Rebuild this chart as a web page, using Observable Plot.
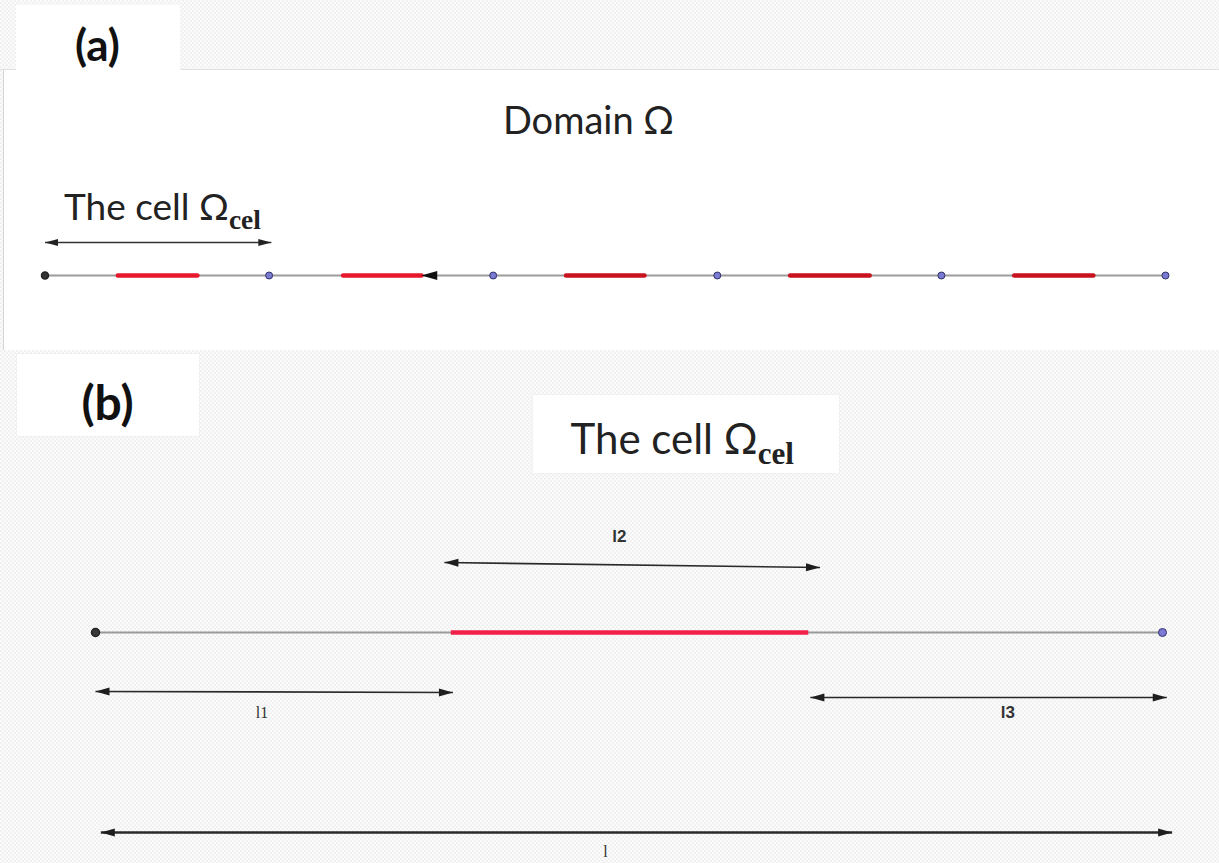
<!DOCTYPE html>
<html><head><meta charset="utf-8">
<script src="https://cdn.jsdelivr.net/npm/d3@7"></script>
<script src="https://cdn.jsdelivr.net/npm/@observablehq/plot@0.6"></script>
<style>
body{margin:0;width:1219px;height:863px;overflow:hidden;position:relative;background-color:#f7f7f7;
 background-image:conic-gradient(#f1f1f1 25%,#fbfbfb 0 50%,#f1f1f1 0 75%,#fbfbfb 0);background-size:4px 4px;}
.box{position:absolute;background:#fff}
#panelA{left:3px;top:69px;width:1216px;height:281px;border-left:1px solid #d6d6d6;border-top:1px solid #e2e2e2;box-sizing:border-box}
#edgeA{position:absolute;left:0;top:69px;width:17px;height:1px;background:#e2e2e2}
#boxA{left:16px;top:5px;width:164px;height:65px}
#boxB{left:17px;top:354px;width:182px;height:82px;box-shadow:0 0 1px #d8d8d8}
#boxT{left:533px;top:395px;width:306px;height:78px;box-shadow:0 0 1px #d8d8d8}
.holder{position:absolute;left:0}
</style></head><body>
<div class="box" id="panelA"></div>
<div id="edgeA"></div>
<div class="box" id="boxA"></div>
<div class="box" id="boxB"></div>
<div class="box" id="boxT"></div>
<div class="holder" id="plotA" style="top:0"></div>
<div class="holder" id="plotB" style="top:350px"></div>
<script>
// ---------- data: panel (a), the domain Ω made of 5 periodic cells (x in cell units)
const domainNodes = [0, 1, 2, 3, 4, 5];
const domainNodeType = ["end", "mid", "mid", "mid", "mid", "mid"];
const inclusionStartA = [0.325, 1.330, 2.325, 3.325, 4.325];
const inclusionEndA = [0.680, 1.680, 2.675, 3.680, 4.678];
const inclusionShadeA = ["bright", "bright", "dark", "dark", "dark"];
const cellSpanA = [0, 1.01];
const strayHeadA = [1.679];

// ---------- data: panel (b), one cell Ω_cel (x in fractions of the cell length l)
const cellNodes = [0, 1];
const cellNodeType = ["end", "mid"];
const inclusionB = [0.333, 0.668];
const spanLabels = ["l2", "l1", "l3", "l"];
const spanFrom = [0.327, 0.0, 0.670, 0.005];
const spanTo = [0.679, 0.335, 1.004, 1.009];
const spanLabelAt = [0.491, 0.156, 0.855, 0.478];

// ---------- layout (vertical levels, page pixels)
const layoutA = {label: 60, title: 133, cellText: 219, cellArrow: 242, line: 275};
const layoutB = {label: 419, title: 453, line: 632,
  spanY1: [562, 691, 697, 832], spanY2: [567, 692, 697, 832], labelY: [536, 712, 712, 851]};

const W = 1219;
const ns = "http://www.w3.org/2000/svg";
// arrowhead symbol: tip at the origin, pointing to +x (rotated by the rotate channel)
const head = (L, w) => ({draw(ctx) { ctx.moveTo(0, 0); ctx.lineTo(-L, -w / 2); ctx.lineTo(-L, w / 2); ctx.closePath(); }});
function subscripts(svg, family) {
  svg.querySelectorAll("text").forEach(t => {
    const s = t.textContent, i = s.indexOf("_");
    if (i < 0) return;
    t.textContent = s.slice(0, i);
    const ts = document.createElementNS(ns, "tspan");
    ts.textContent = s.slice(i + 1);
    ts.setAttribute("font-size", "0.74em");
    ts.setAttribute("dy", "0.33em");
    ts.setAttribute("font-family", family);
    ts.setAttribute("font-weight", "bold");
    t.appendChild(ts);
  });
}
const sans = "Lato, 'Open Sans', sans-serif";
const idx = n => d3.range(n);

// ---------- panel (a)
const headsA = [
  {x: cellSpanA[0], y: layoutA.cellArrow, rotate: 180},
  {x: cellSpanA[1], y: layoutA.cellArrow, rotate: 0}
];
const svgA = Plot.plot({
  width: W, height: 350, margin: 0,
  x: {domain: [0, 5], range: [44.5, 1165], axis: null},
  y: {domain: [0, 350], range: [0, 350], axis: null},
  style: {background: "transparent"},
  marks: [
    Plot.link([0], {x1: domainNodes[0], x2: domainNodes[5], y1: layoutA.line, y2: layoutA.line, stroke: "#9c9c9c", strokeWidth: 2}),
    Plot.link(idx(5).filter(i => inclusionShadeA[i] === "bright"), {x1: i => inclusionStartA[i], x2: i => inclusionEndA[i], y1: layoutA.line, y2: layoutA.line, stroke: "#e8182c", strokeWidth: 4.5, strokeLinecap: "round"}),
    Plot.link(idx(5).filter(i => inclusionShadeA[i] === "dark"), {x1: i => inclusionStartA[i], x2: i => inclusionEndA[i], y1: layoutA.line, y2: layoutA.line, stroke: "#c8121e", strokeWidth: 4.5, strokeLinecap: "round"}),
    Plot.dot(strayHeadA, {x: d => d, y: layoutA.line, symbol: head(16, 9), rotate: 180, fill: "#111", r: 4}),
    Plot.link([0], {x1: cellSpanA[0], x2: cellSpanA[1], y1: layoutA.cellArrow, y2: layoutA.cellArrow, stroke: "#333", strokeWidth: 1.6}),
    Plot.dot(headsA, {x: "x", y: "y", rotate: "rotate", symbol: head(13, 7), fill: "#222", r: 4}),
    Plot.dot(domainNodes.filter((d, i) => domainNodeType[i] === "end"), {x: d => d, y: layoutA.line, r: 3.5, fill: "#333", stroke: "#222"}),
    Plot.dot(domainNodes.filter((d, i) => domainNodeType[i] === "mid"), {x: d => d, y: layoutA.line, r: 3.5, fill: "#7a7ad0", stroke: "#30306a", strokeWidth: 1}),
    Plot.text(["(a)"], {text: d => d, frameAnchor: "top-left", dx: 97, dy: layoutA.label, lineAnchor: "bottom", textAnchor: "middle", fontSize: 44, fontWeight: "bold", fontFamily: sans, fill: "#111"}),
    Plot.text(["Domain Ω"], {text: d => d, frameAnchor: "top-left", dx: 588, dy: layoutA.title, lineAnchor: "bottom", textAnchor: "middle", fontSize: 38, fontFamily: sans, fill: "#222"}),
    Plot.text(["The cell Ω_cel"], {text: d => d, x: cellSpanA[0], y: layoutA.cellText, dx: 19, lineAnchor: "bottom", textAnchor: "start", fontSize: 37, fontFamily: sans, fill: "#222"})
  ]
});
subscripts(svgA, "'Liberation Serif', serif");
document.getElementById("plotA").appendChild(svgA);

// ---------- panel (b)
const pxB = 1162 - 95; // pixels per cell length, used only to orient the heads
const headsB = idx(4).flatMap(i => {
  const ang = Math.atan2(layoutB.spanY2[i] - layoutB.spanY1[i], (spanTo[i] - spanFrom[i]) * pxB) * 180 / Math.PI;
  return [
    {x: spanFrom[i], y: layoutB.spanY1[i], rotate: 180 + ang},
    {x: spanTo[i], y: layoutB.spanY2[i], rotate: ang}
  ];
});
const svgB = Plot.plot({
  width: W, height: 513, margin: 0,
  x: {domain: [0, 1], range: [95, 1162], axis: null},
  y: {domain: [350, 863], range: [0, 513], axis: null},
  style: {background: "transparent"},
  marks: [
    Plot.link([0], {x1: cellNodes[0], x2: cellNodes[1], y1: layoutB.line, y2: layoutB.line, stroke: "#9a9a9a", strokeWidth: 2}),
    Plot.link([0], {x1: inclusionB[0], x2: inclusionB[1], y1: layoutB.line, y2: layoutB.line, stroke: "#f2204a", strokeWidth: 4.5}),
    Plot.dot(cellNodes.filter((d, i) => cellNodeType[i] === "end"), {x: d => d, y: layoutB.line, r: 4, fill: "#3a3a3a", stroke: "#222"}),
    Plot.dot(cellNodes.filter((d, i) => cellNodeType[i] === "mid"), {x: d => d, y: layoutB.line, r: 4, fill: "#7b7bd6", stroke: "#33336b", strokeWidth: 1}),
    Plot.link(idx(3), {x1: i => spanFrom[i], x2: i => spanTo[i], y1: i => layoutB.spanY1[i], y2: i => layoutB.spanY2[i], stroke: "#2a2a2a", strokeWidth: 1.7}),
    Plot.link([3], {x1: i => spanFrom[i], x2: i => spanTo[i], y1: i => layoutB.spanY1[i], y2: i => layoutB.spanY2[i], stroke: "#2a2a2a", strokeWidth: 2.6}),
    Plot.dot(headsB, {x: "x", y: "y", rotate: "rotate", symbol: head(14, 8), fill: "#1e1e1e", r: 4}),
    Plot.text(idx(4).filter(i => spanLabels[i] === "l2" || spanLabels[i] === "l3"), {text: i => spanLabels[i], x: i => spanLabelAt[i], y: i => layoutB.labelY[i], fontSize: 17, fontWeight: "bold", fontFamily: "'Liberation Sans', Arial, sans-serif", fill: "#333"}),
    Plot.text(idx(4).filter(i => spanLabels[i] === "l1" || spanLabels[i] === "l"), {text: i => spanLabels[i], x: i => spanLabelAt[i], y: i => layoutB.labelY[i], fontSize: 16, fontFamily: "'Liberation Serif', serif", fill: "#333"}),
    Plot.text(["(b)"], {text: d => d, frameAnchor: "top-left", dx: 107, dy: layoutB.label - 350, lineAnchor: "bottom", textAnchor: "middle", fontSize: 48, fontWeight: "bold", fontFamily: sans, fill: "#111"}),
    Plot.text(["The cell Ω_cel"], {text: d => d, frameAnchor: "top-left", dx: 570, dy: layoutB.title - 350, lineAnchor: "bottom", textAnchor: "start", fontSize: 42, fontFamily: sans, fill: "#222"})
  ]
});
subscripts(svgB, "'Liberation Serif', serif");
document.getElementById("plotB").appendChild(svgB);
</script>
</body></html>
